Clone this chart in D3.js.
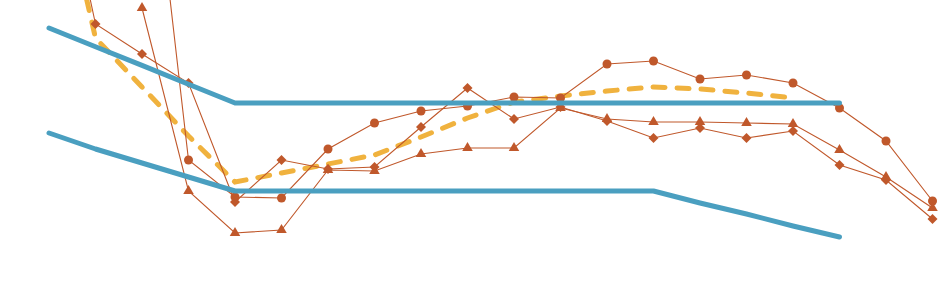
<!DOCTYPE html>
<html>
<head>
<meta charset="utf-8">
<script src="https://cdn.jsdelivr.net/npm/d3@7"></script>
<style>
  body { margin: 0; background: #fff; }
</style>
</head>
<body>
<div id="wrapper"></div>
<script>
// 20 periods along the x axis
const categories = d3.range(1, 21).map(String);

// two thick blue band lines
const bandUpper = [10.65, 9.71, 8.78, 7.84, 6.9, 6.9, 6.9, 6.9, 6.9, 6.9, 6.9, 6.9, 6.9, 6.9, 6.9, 6.9, 6.9, 6.9, null, null];
const bandLower = [5.4, 4.6, 3.9, 3.2, 2.5, 2.5, 2.5, 2.5, 2.5, 2.5, 2.5, 2.5, 2.5, 2.5, 1.9, 1.35, 0.75, 0.2, null, null];

// dashed average line
const average = [20.3, 10.15, 7.7, 5.25, 2.95, 3.4, 3.85, 4.3, 5.2, 6.15, 6.95, 7.25, 7.5, 7.7, 7.6, 7.4, 7.15, null, null, null];

// thin marker series
const seriesCircle = [null, null, 24.3, 4.05, 2.2, 2.15, 4.6, 5.9, 6.5, 6.75, 7.2, 7.15, 8.85, 9.0, 8.1, 8.3, 7.9, 6.65, 5.0, 2.0];
const seriesDiamond = [21.65, 10.85, 9.35, 7.9, 1.95, 4.05, 3.6, 3.7, 5.7, 7.65, 6.1, 6.7, 6.0, 5.15, 5.65, 5.15, 5.5, 3.8, 3.05, 1.1];
const seriesTriangle = [null, null, 11.65, 2.5, 0.4, 0.55, 3.55, 3.5, 4.35, 4.65, 4.65, 6.65, 6.1, 5.95, 5.95, 5.9, 5.85, 4.55, 3.2, 1.65];

const dimensions = {
    width: 946,
    height: 281,
    margin: { top: 1, right: 14, bottom: 40, left: 49 },
};
dimensions.boundedWidth = dimensions.width - dimensions.margin.left - dimensions.margin.right;
dimensions.boundedHeight = dimensions.height - dimensions.margin.top - dimensions.margin.bottom;

const xScale = d3.scalePoint()
    .domain(categories)
    .range([0, dimensions.boundedWidth + 0.5]);

const yScale = d3.scaleLinear()
    .domain([0, 12])
    .range([dimensions.boundedHeight, 0]);

const toPoints = values => values.map((v, i) => ({ cat: categories[i], value: v }));

const lineGenerator = d3.line()
    .defined(d => d.value != null)
    .x(d => xScale(d.cat))
    .y(d => yScale(d.value));

const wrapper = d3.select("#wrapper")
    .append("svg")
    .attr("width", dimensions.width)
    .attr("height", dimensions.height);

const bounds = wrapper.append("g")
    .attr("transform", `translate(${dimensions.margin.left}, ${dimensions.margin.top})`);

const brown = "#c0582b";

// dashed line sits at the bottom
bounds.append("path")
    .datum(toPoints(average))
    .attr("d", lineGenerator)
    .attr("fill", "none")
    .attr("stroke", "#f0b23e")
    .attr("stroke-width", 5)
    .attr("stroke-linecap", "round")
    .attr("stroke-dasharray", "12,12");

const markerSeries = [
    { values: seriesCircle, symbol: d3.symbolCircle, size: 64, rotate: 0 },
    { values: seriesDiamond, symbol: d3.symbolSquare, size: 50, rotate: 45 },
    { values: seriesTriangle, symbol: d3.symbolTriangle, size: 48, rotate: 0 },
];

markerSeries.forEach(s => {
    const pts = toPoints(s.values);
    bounds.append("path")
        .datum(pts)
        .attr("d", lineGenerator)
        .attr("fill", "none")
        .attr("stroke", brown)
        .attr("stroke-width", 1.1);

    bounds.append("g")
        .selectAll("path")
        .data(pts.filter(d => d.value != null))
        .join("path")
        .attr("d", d3.symbol().type(s.symbol).size(s.size))
        .attr("transform", d => `translate(${xScale(d.cat)}, ${yScale(d.value)}) rotate(${s.rotate})`)
        .attr("fill", brown);
});

// blue band lines on top
[bandUpper, bandLower].forEach(values => {
    bounds.append("path")
        .datum(toPoints(values))
        .attr("d", lineGenerator)
        .attr("fill", "none")
        .attr("stroke", "#4a9fc0")
        .attr("stroke-width", 5)
        .attr("stroke-linecap", "round")
        .attr("stroke-linejoin", "round");
});
</script>
</body>
</html>
